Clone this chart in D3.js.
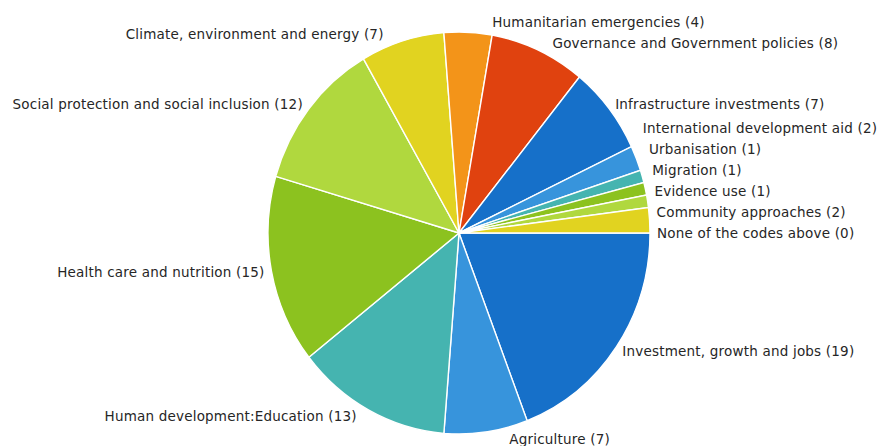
<!DOCTYPE html>
<html>
<head>
<meta charset="utf-8">
<script src="https://cdn.jsdelivr.net/npm/d3@7"></script>
<style>
  html, body { margin: 0; padding: 0; background: #ffffff; }
  svg { display: block; }
  .lbl { font-family: "DejaVu Sans", Verdana, sans-serif; font-size: 13.5px; letter-spacing: 0.2px; fill: #262626; }
</style>
</head>
<body>
<svg id="chart" width="878" height="446"></svg>
<script>
// Number of evaluations per thematic code
const categories = [
  "Investment, growth and jobs",
  "Agriculture",
  "Human development:Education",
  "Health care and nutrition",
  "Social protection and social inclusion",
  "Climate, environment and energy",
  "Humanitarian emergencies",
  "Governance and Government policies",
  "Infrastructure investments",
  "International development aid",
  "Urbanisation",
  "Migration",
  "Evidence use",
  "Community approaches",
  "None of the codes above"
];
const counts = [19, 7, 13, 15, 12, 7, 4, 8, 7, 2, 1, 1, 1, 2, 0];
const palette = ["#1670c9", "#3794dc", "#45b4b0", "#8cc21f", "#b0d83e", "#e1d320", "#f39419", "#e0420f"];

const W = 878, H = 446;
const cx = 459, cy = 233;
const rx = 191, ry = 201;          // pie is drawn slightly taller than wide
const yScale = ry / rx;
const labelR = rx + 7;
const lineGap = 21;

const svg = d3.select("#chart");

const pie = d3.pie()
  .sort(null)
  .value(d => d.value)
  .startAngle(Math.PI / 2)
  .endAngle(Math.PI / 2 + 2 * Math.PI);

const data = categories.map((name, i) => ({ name, value: counts[i], color: palette[i % palette.length] }));
const arcs = pie(data);

const arc = d3.arc().innerRadius(0).outerRadius(rx);

const g = svg.append("g")
  .attr("transform", `translate(${cx},${cy}) scale(1,${yScale})`);

g.selectAll("path")
  .data(arcs.filter(d => d.data.value > 0))
  .join("path")
  .attr("d", arc)
  .attr("fill", d => d.data.color)
  .attr("stroke", "#ffffff")
  .attr("stroke-width", 1.4)
  .attr("vector-effect", "non-scaling-stroke");

// Label anchor points outside the rim
const labels = arcs.map(d => {
  const a = (d.startAngle + d.endAngle) / 2;
  const s = Math.sin(a), c = Math.cos(a);
  const right = s >= 0;
  const push = 24 * Math.pow(Math.abs(c), 8);
  return {
    text: `${d.data.name} (${d.data.value})`,
    right,
    x: cx + labelR * s + (right ? push : -push),
    y: cy - labelR * yScale * c
  };
});

// Keep right-hand labels from overlapping: walk upward from the bottom one
const rightSide = labels.filter(l => l.right).sort((a, b) => b.y - a.y);
for (let i = 1; i < rightSide.length; i++) {
  const below = rightSide[i - 1];
  if (rightSide[i].y > below.y - lineGap) rightSide[i].y = below.y - lineGap;
}
const leftSide = labels.filter(l => !l.right).sort((a, b) => a.y - b.y);
for (let i = 1; i < leftSide.length; i++) {
  const above = leftSide[i - 1];
  if (leftSide[i].y < above.y + lineGap) leftSide[i].y = above.y + lineGap;
}

svg.append("g")
  .selectAll("text")
  .data(labels)
  .join("text")
  .attr("class", "lbl")
  .attr("x", d => d.x)
  .attr("y", d => d.y)
  .attr("dy", "0.35em")
  .attr("text-anchor", d => d.right ? "start" : "end")
  .text(d => d.text);
</script>
</body>
</html>
